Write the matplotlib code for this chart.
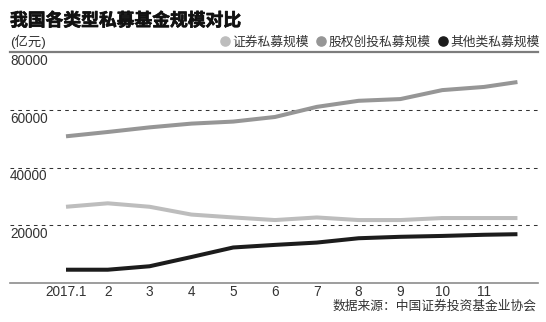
import matplotlib
matplotlib.use("Agg")
import matplotlib.pyplot as plt
import matplotlib.transforms as mtransforms
import matplotlib.patheffects as pe
from matplotlib.lines import Line2D

plt.rcParams["font.family"] = ["Liberation Sans", "Noto Sans CJK SC", "DejaVu Sans"]

# ============================
# DATA (亿元)
# ============================
months = [1, 2, 3, 4, 5, 6, 7, 8, 9, 10, 11, 11.8]
month_labels = ["2017.1", "2", "3", "4", "5", "6", "7", "8", "9", "10", "11"]

securities = [26400, 27600, 26400, 23700, 22700, 21800, 22700, 21800, 21800, 22500, 22500, 22500]
equity_vc = [50800, 52300, 53900, 55200, 55900, 57500, 61000, 63100, 63700, 66800, 67900, 69600]
others = [4600, 4600, 5800, 9000, 12300, 13200, 14000, 15500, 16000, 16300, 16700, 16900]

series_names = ["证券私募规模", "股权创投私募规模", "其他类私募规模"]
series_colors = ["#bdbdbd", "#969696", "#1c1c1c"]

y_grid = [20000, 40000, 60000]
y_labels = [20000, 40000, 60000, 80000]

# ============================
# FIGURE
# ============================
W, H = 546, 322
fig = plt.figure(figsize=(W / 100, H / 100), dpi=100)
fig.patch.set_facecolor("white")

left_px, right_px = 10, 538
top_px, bottom_px = 52, 283
ax = fig.add_axes([left_px / W, 1 - bottom_px / H,
                   (right_px - left_px) / W, (bottom_px - top_px) / H])
ax.set_facecolor("none")

px_per_month = 41.8
ax.set_xlim(1 - (66 - left_px) / px_per_month, 1 + (right_px - 66) / px_per_month)
ax.set_ylim(0, 80000)

for s in ax.spines.values():
    s.set_visible(False)

# gridlines
for v in y_grid:
    ax.axhline(v, color="#333333", lw=0.75, linestyle=(0, (3.5, 4)), zorder=1)
ax.axhline(80000, color="#7d7d7d", lw=1.6, zorder=1, clip_on=False)
ax.axhline(0, color="#8c8c8c", lw=1.2, zorder=1, clip_on=False)

# y labels sit just under each gridline
lab_trans = mtransforms.offset_copy(
    mtransforms.blended_transform_factory(ax.transAxes, ax.transData),
    fig=fig, x=0, y=-9 * 0.72, units="points")
for v in y_labels:
    ax.text(0, v, str(v), transform=lab_trans, ha="left", va="center",
            fontsize=9.8, color="#333333")
ax.set_yticks([])

# series
for vals, color in zip([securities, equity_vc, others], series_colors):
    ax.plot(months, vals, color=color, lw=2.9, solid_capstyle="butt",
            solid_joinstyle="round", zorder=3)

ax.set_xticks(months[:11])
ax.set_xticklabels(month_labels, fontsize=9.8, color="#333333")
ax.tick_params(axis="x", length=0, pad=1.5)

# legend
handles = [Line2D([], [], marker="o", linestyle="none", markersize=6.6,
                  markerfacecolor=c, markeredgecolor=c) for c in series_colors]
fig.legend(handles, series_names, loc="center right", ncol=3, frameon=False,
           bbox_to_anchor=(540 / W, 1 - 42.5 / H), fontsize=9.2,
           handlelength=0.7, handletextpad=0.25, columnspacing=0.6,
           borderpad=0, borderaxespad=0, labelcolor="#333333")

# title / unit / source
fig.text(10 / W, 1 - 21 / H, "我国各类型私募基金规模对比", fontsize=12.8,
         fontweight="bold", color="#111111", ha="left", va="center",
         family=["Noto Sans CJK SC"],
         path_effects=[pe.withStroke(linewidth=0.5, foreground="#111111")])
fig.text(10 / W, 1 - 42 / H, "(亿元)", fontsize=9.6, color="#333333",
         ha="left", va="center")
fig.text(537 / W, 1 - 306 / H, "数据来源：中国证券投资基金业协会", fontsize=9.2,
         color="#333333", ha="right", va="center")

fig.savefig("out.png", dpi=100)
